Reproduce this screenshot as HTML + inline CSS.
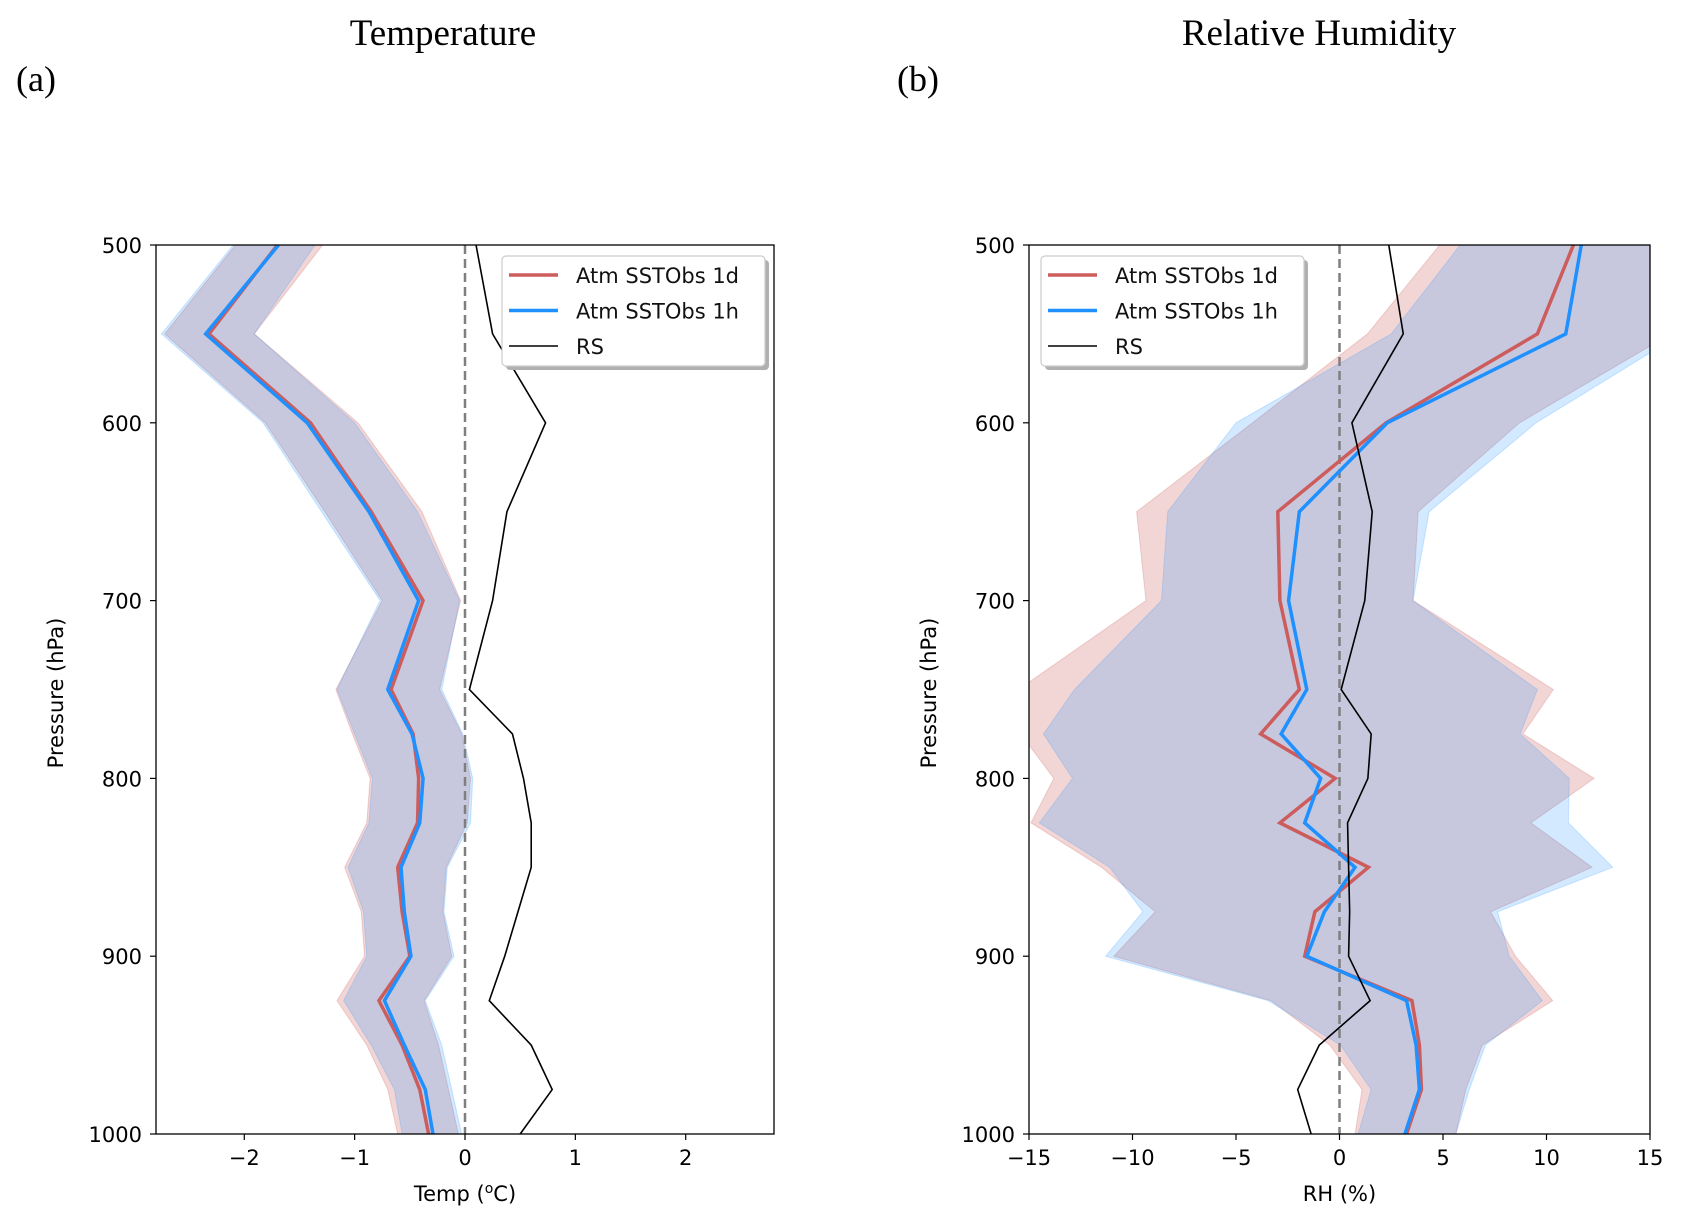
<!DOCTYPE html>
<html><head><meta charset="utf-8"><style>
html,body{margin:0;padding:0;background:#fff;}
svg{display:block;}
text{font-family:"DejaVu Sans","Liberation Sans",sans-serif;}
.serif{font-family:"Liberation Serif",serif;}
</style></head><body>
<svg id="fig" width="1681" height="1226" viewBox="0 0 1681 1226" xmlns="http://www.w3.org/2000/svg">
<text class="serif" x="443" y="45" font-size="37" text-anchor="middle">Temperature</text>
<text class="serif" x="16" y="91" font-size="36">(a)</text>
<text class="serif" x="1319" y="45" font-size="37" text-anchor="middle">Relative Humidity</text>
<text class="serif" x="897" y="91" font-size="36">(b)</text>
</svg>
<script>
const levels=[500,550,600,650,700,750,775,800,825,850,875,900,925,950,975,1000];
// Temperature panel
const tRed=[-1.70,-2.32,-1.40,-0.85,-0.38,-0.67,-0.47,-0.42,-0.43,-0.61,-0.57,-0.50,-0.78,-0.57,-0.41,-0.33];
const tBlue=[-1.69,-2.35,-1.43,-0.87,-0.42,-0.70,-0.48,-0.38,-0.41,-0.58,-0.55,-0.49,-0.73,-0.55,-0.36,-0.29];
const tRS=[0.10,0.25,0.73,0.38,0.25,0.04,0.43,0.53,0.60,0.60,0.48,0.36,0.22,0.60,0.79,0.50];
const tRedLo=[-2.08,-2.72,-1.81,-1.27,-0.75,-1.17,-1.02,-0.86,-0.89,-1.09,-0.94,-0.91,-1.16,-0.89,-0.70,-0.61];
const tRedHi=[-1.29,-1.91,-0.97,-0.39,-0.04,-0.23,-0.03,0.05,0.02,-0.17,-0.20,-0.12,-0.37,-0.24,-0.15,-0.06];
const tBlueLo=[-2.10,-2.75,-1.83,-1.30,-0.77,-1.16,-1.00,-0.84,-0.87,-1.06,-0.92,-0.89,-1.10,-0.85,-0.64,-0.57];
const tBlueHi=[-1.36,-1.91,-1.00,-0.43,-0.05,-0.21,-0.02,0.07,0.05,-0.16,-0.19,-0.10,-0.36,-0.21,-0.12,-0.03];
const tTicks=[-2,-1,0,1,2];
// RH panel
const hRed=[11.3,9.56,2.25,-2.98,-2.88,-1.94,-3.81,-0.21,-2.88,1.40,-1.19,-1.68,3.50,3.86,3.96,3.24];
const hBlue=[11.68,10.93,2.31,-1.94,-2.46,-1.58,-2.82,-0.91,-1.68,0.75,-0.73,-1.58,3.24,3.70,3.86,3.16];
const hRS=[2.38,3.08,0.60,1.58,1.22,0.08,1.53,1.37,0.39,0.44,0.49,0.44,1.48,-0.98,-2.02,-1.37];
const hRedLo=[4.84,1.35,-4.2,-9.8,-9.35,-15.5,-15.4,-13.8,-14.9,-11.5,-8.9,-10.9,-3.3,-0.47,1.09,0.75];
const hRedHi=[16.5,16.0,8.7,3.8,3.55,10.33,8.86,12.3,9.25,12.2,7.3,8.5,10.3,6.9,6.1,5.62];
const hBlueLo=[5.83,2.5,-5.0,-8.3,-8.6,-12.8,-14.3,-12.9,-14.5,-11.1,-9.5,-11.3,-3.45,0.05,1.53,0.9];
const hBlueHi=[16.5,16.5,9.5,4.33,3.55,9.56,8.73,11.1,11.06,13.2,7.64,8.2,9.8,7.05,6.27,5.62];
const hTicks=[-15,-10,-5,0,5,10,15];
const pTicks=[500,600,700,800,900,1000];

const NS='http://www.w3.org/2000/svg';
const svg=document.getElementById('fig');
function mk(tag,attrs,parent){const e=document.createElementNS(NS,tag);for(const k in attrs)e.setAttribute(k,attrs[k]);(parent||svg).appendChild(e);return e;}

function panel(id,L,R,xmin,xmax,ticks,xlabel,red,blue,rs,rLo,rHi,bLo,bHi,legX){
  const T=245,B=1134;
  const xs=v=>L+(v-xmin)/(xmax-xmin)*(R-L);
  const ys=p=>T+(p-500)/500*(B-T);
  const g=mk('g',{});
  
  
  const cp=mk('clipPath',{id:id+'clip'},g);
  mk('rect',{x:L,y:T,width:R-L,height:B-T},cp);
  const inner=mk('g',{'clip-path':'url(#'+id+'clip)'},g);
  function band(lo,hi,fill,name){
    let pts=levels.map((p,i)=>xs(lo[i])+','+ys(p));
    for(let i=levels.length-1;i>=0;i--)pts.push(xs(hi[i])+','+ys(levels[i]));
    const e=mk('polygon',{points:pts.join(' '),fill:fill,stroke:fill,'stroke-width':1},inner);
    
    
  }
  band(rLo,rHi,'rgba(205,92,92,0.25)',id+'-band-1d');
  band(bLo,bHi,'rgba(30,144,255,0.2)',id+'-band-1h');
  const zl=mk('line',{x1:xs(0),x2:xs(0),y1:T,y2:B,stroke:'#7f7f7f','stroke-width':2.5,'stroke-dasharray':'9,5'},inner);
  
  
  function line(vals,col,w,name){
    const e=mk('polyline',{points:levels.map((p,i)=>xs(vals[i])+','+ys(p)).join(' '),fill:'none',stroke:col,'stroke-width':w,'stroke-linejoin':'miter'},inner);
    
    
  }
  line(red,'#cd5c5c',3.5,id+'-line-1d');
  line(blue,'#1e90ff',3.5,id+'-line-1h');
  line(rs,'#000',1.6,id+'-line-rs');
  const fr=mk('rect',{x:L,y:T,width:R-L,height:B-T,fill:'none',stroke:'#000','stroke-width':1.3},g);
  
  
  ticks.forEach(t=>{
    mk('line',{x1:xs(t),x2:xs(t),y1:B,y2:B+6,stroke:'#000','stroke-width':1.2},g);
    const tx=mk('text',{x:xs(t),y:B+31,'font-size':21,'text-anchor':'middle'},g);
    tx.textContent=(t<0?'\u2212'+Math.abs(t):String(t));
    
    
  });
  pTicks.forEach(p=>{
    mk('line',{x1:L-6,x2:L,y1:ys(p),y2:ys(p),stroke:'#000','stroke-width':1.2},g);
    const tx=mk('text',{x:L-14,y:ys(p)+8,'font-size':21,'text-anchor':'end'},g);
    tx.textContent=String(p);
    
    
  });
  const xl=mk('text',{x:(L+R)/2,y:1201,'font-size':21,'text-anchor':'middle'},g);
  xl.innerHTML=xlabel;
  
  
  const yl=mk('text',{x:0,y:0,'font-size':21,'text-anchor':'middle',transform:'translate('+(L-93)+',693) rotate(-90)'},g);
  yl.textContent='Pressure (hPa)';
  
  
  // legend
  const lg=mk('g',{},g);
  
  
  mk('rect',{x:legX+4,y:260,width:263,height:110,rx:4,fill:'#b0b0b0'},lg);
  mk('rect',{x:legX,y:256,width:263,height:110,rx:4,fill:'#fff',stroke:'#ccc','stroke-width':1.2},lg);
  const items=[['Atm SSTObs 1d','#cd5c5c',3.5],['Atm SSTObs 1h','#1e90ff',3.5],['RS','#000',1.6]];
  items.forEach((it,i)=>{
    const y=275+i*35.5;
    const ent=mk('g',{},lg);
    
    
    mk('line',{x1:legX+7,x2:legX+56,y1:y,y2:y,stroke:it[1],'stroke-width':it[2]},ent);
    const tx=mk('text',{x:legX+74,y:y+8,'font-size':21,fill:'#111'},ent);
    tx.textContent=it[0];
  });
}
panel('temp',156,774,-2.8,2.8,tTicks,'Temp (<tspan font-size="14" dy="-8">o</tspan><tspan dy="8">C)</tspan>',tRed,tBlue,tRS,tRedLo,tRedHi,tBlueLo,tBlueHi,502);
panel('rh',1029,1650,-15,15,hTicks,'RH (%)',hRed,hBlue,hRS,hRedLo,hRedHi,hBlueLo,hBlueHi,1041);
</script>
</body></html>
